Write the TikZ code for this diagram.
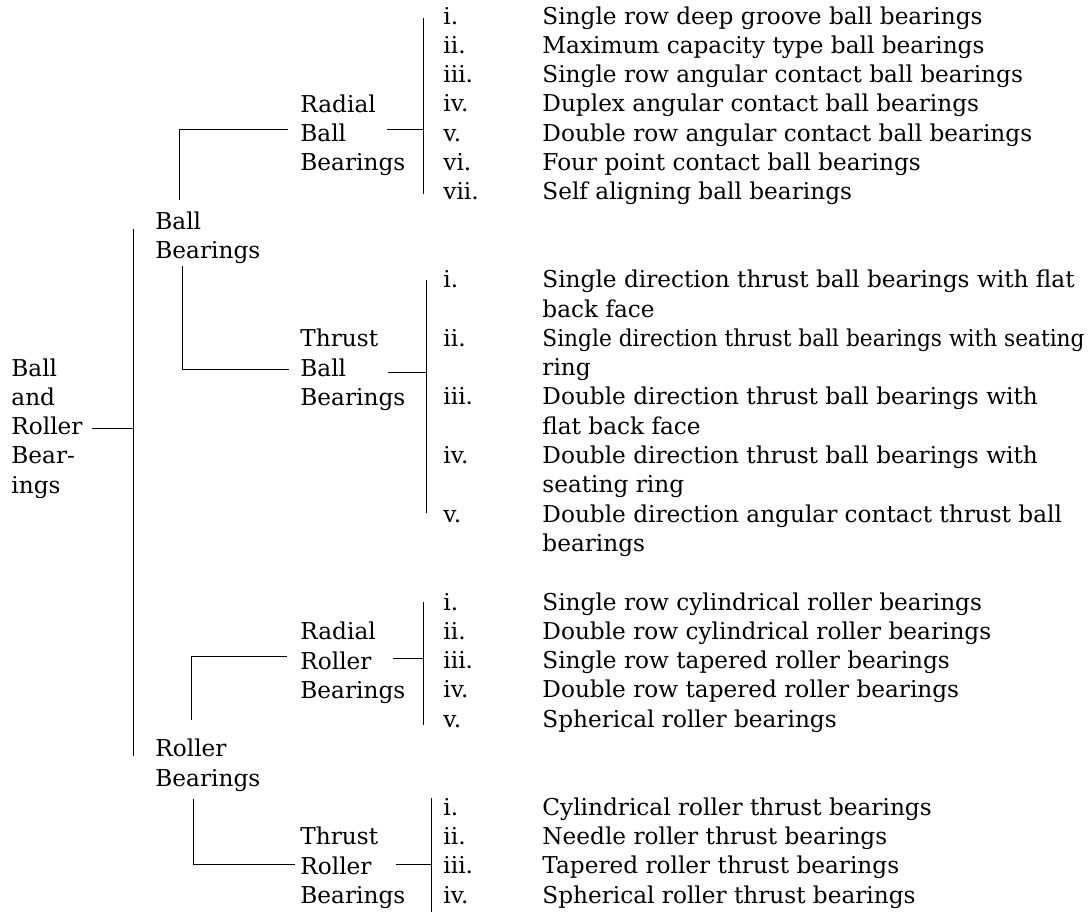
\documentclass[tikz,border=0pt]{standalone}
\usepackage{fontspec}
\setmainfont{DejaVu Serif}
\usepackage{graphicx}
\usetikzlibrary{positioning, calc}

% baseline of text row #1 (in picture units)
\newcommand{\rowy}[1]{24+29.3*#1}

\begin{document}
\begin{tikzpicture}[
    x=0.025cm, y=-0.025cm,
    line width=0.6pt,
    font=\fontsize{16.5}{20.84}\selectfont,
    group/.style={align=left, anchor=north west, inner sep=0pt},
    numeral/.style={anchor=base west, inner sep=0pt},
    entry/.style={anchor=base west, inner sep=0pt},
  ]
  \useasboundingbox (0,0) rectangle (1090,914);

  % category labels
  \node[group] (root) at (11,{\rowy{12}-17.6})  {Ball\\and\\Roller\\Bear-\\ings};
  \node[group] (bb)   at (155,{\rowy{7}-17.6})  {Ball\\Bearings};
  \node[group] (rb)   at (155,{\rowy{25}-17.6}) {Roller\\Bearings};
  \node[group] (rbb)  at (300,{\rowy{3}-17.6})  {Radial\\Ball\\Bearings};
  \node[group] (tbb)  at (300,{\rowy{11}-17.6}) {Thrust\\Ball\\Bearings};
  \node[group] (rrb)  at (300,{\rowy{21}-17.6}) {Radial\\Roller\\Bearings};
  \node[group] (trb)  at (300,{\rowy{28}-17.6}) {Thrust\\Roller\\Bearings};

  % radial ball bearings
  \foreach \k/\num in {0/i., 1/ii., 2/iii., 3/iv., 4/v., 5/vi., 6/vii.}
    \node[numeral] (rbl-\k) at (443,{\rowy{\k}}) {\num};
  \foreach \k/\txt in {0/Single row deep groove ball bearings,
      1/Maximum capacity type ball bearings,
      2/Single row angular contact ball bearings,
      3/Duplex angular contact ball bearings,
      4/Double row angular contact ball bearings,
      5/Four point contact ball bearings,
      6/Self aligning ball bearings}
    \node[entry] (rbl-t\k) at (542,{\rowy{\k}}) {\txt};

  % thrust ball bearings
  \foreach \k/\num in {9/i., 11/ii., 13/iii., 15/iv., 17/v.}
    \node[numeral] (tbl-\k) at (443,{\rowy{\k}}) {\num};
  \foreach \k/\txt in {9/Single direction thrust ball bearings with flat,
      10/back face,
      11/\resizebox{13.55cm}{\height}{Single direction thrust ball bearings with seating},
      12/ring,
      13/Double direction thrust ball bearings with,
      14/flat back face,
      15/Double direction thrust ball bearings with,
      16/seating ring,
      17/Double direction angular contact thrust ball,
      18/bearings}
    \node[entry] (tbl-t\k) at (542,{\rowy{\k}}) {\txt};

  % radial roller bearings
  \foreach \k/\num in {20/i., 21/ii., 22/iii., 23/iv., 24/v.}
    \node[numeral] (rrl-\k) at (443,{\rowy{\k}}) {\num};
  \foreach \k/\txt in {20/Single row cylindrical roller bearings,
      21/Double row cylindrical roller bearings,
      22/Single row tapered roller bearings,
      23/Double row tapered roller bearings,
      24/Spherical roller bearings}
    \node[entry] (rrl-t\k) at (542,{\rowy{\k}}) {\txt};

  % thrust roller bearings
  \foreach \k/\num in {27/i., 28/ii., 29/iii., 30/iv.}
    \node[numeral] (trl-\k) at (443,{\rowy{\k}}) {\num};
  \foreach \k/\txt in {27/Cylindrical roller thrust bearings,
      28/Needle roller thrust bearings,
      29/Tapered roller thrust bearings,
      30/Spherical roller thrust bearings}
    \node[entry] (trl-t\k) at (542,{\rowy{\k}}) {\txt};

  % brackets in front of the lists
  \draw ($(rbl-0.base west)+(-20,-6)$) coordinate (rbl-bar) -- ($(rbl-6.base west)+(-20,-6)$);
  \draw ($(tbl-9.base west)+(-17,-8)$) coordinate (tbl-bar) -- ($(tbl-17.base west)+(-17,-9)$);
  \draw ($(rrl-20.base west)+(-20,-8)$) coordinate (rrl-bar) -- ($(rrl-24.base west)+(-20,-2)$);
  \draw ($(trl-27.base west)+(-12,-17)$) coordinate (trl-bar) -- ($(trl-30.base west)+(-12,9)$);

  % main spine
  \coordinate (spinetop) at ($(bb.north west)+(-22,17)$);
  \coordinate (spinebot) at ($(rb.north west)+(-22,17)$);
  \draw (spinetop) -- (spinebot);
  \draw ($(root.west)+(81,0)$) -- (root.west -| spinetop);

  % ball bearings branch
  \draw ($(bb.north west)+(24,-12)$) |- ($(rbb.west)+(-12,-6)$);
  \draw ($(bb.south west)+(27,2)$) |- ($(tbb.west)+(-11,0)$);
  \draw ($(rbb.west)+(87,-6)$) -- ($(rbb.west -| rbl-bar)+(0,-6)$);
  \draw ($(tbb.west)+(88,3)$) -- ($(tbb.west -| tbl-bar)+(0,3)$);

  % roller bearings branch
  \draw ($(rb.north west)+(36,-19)$) |- ($(rrb.west)+(-13,-6)$);
  \draw ($(rb.south west)+(38,7)$) |- ($(trb.west)+(-5,-4)$);
  \draw ($(rrb.west)+(93,-4)$) -- ($(rrb.west -| rrl-bar)+(0,-4)$);
  \draw ($(trb.west)+(96,-4)$) -- ($(trb.west -| trl-bar)+(0,-4)$);
\end{tikzpicture}
\end{document}
